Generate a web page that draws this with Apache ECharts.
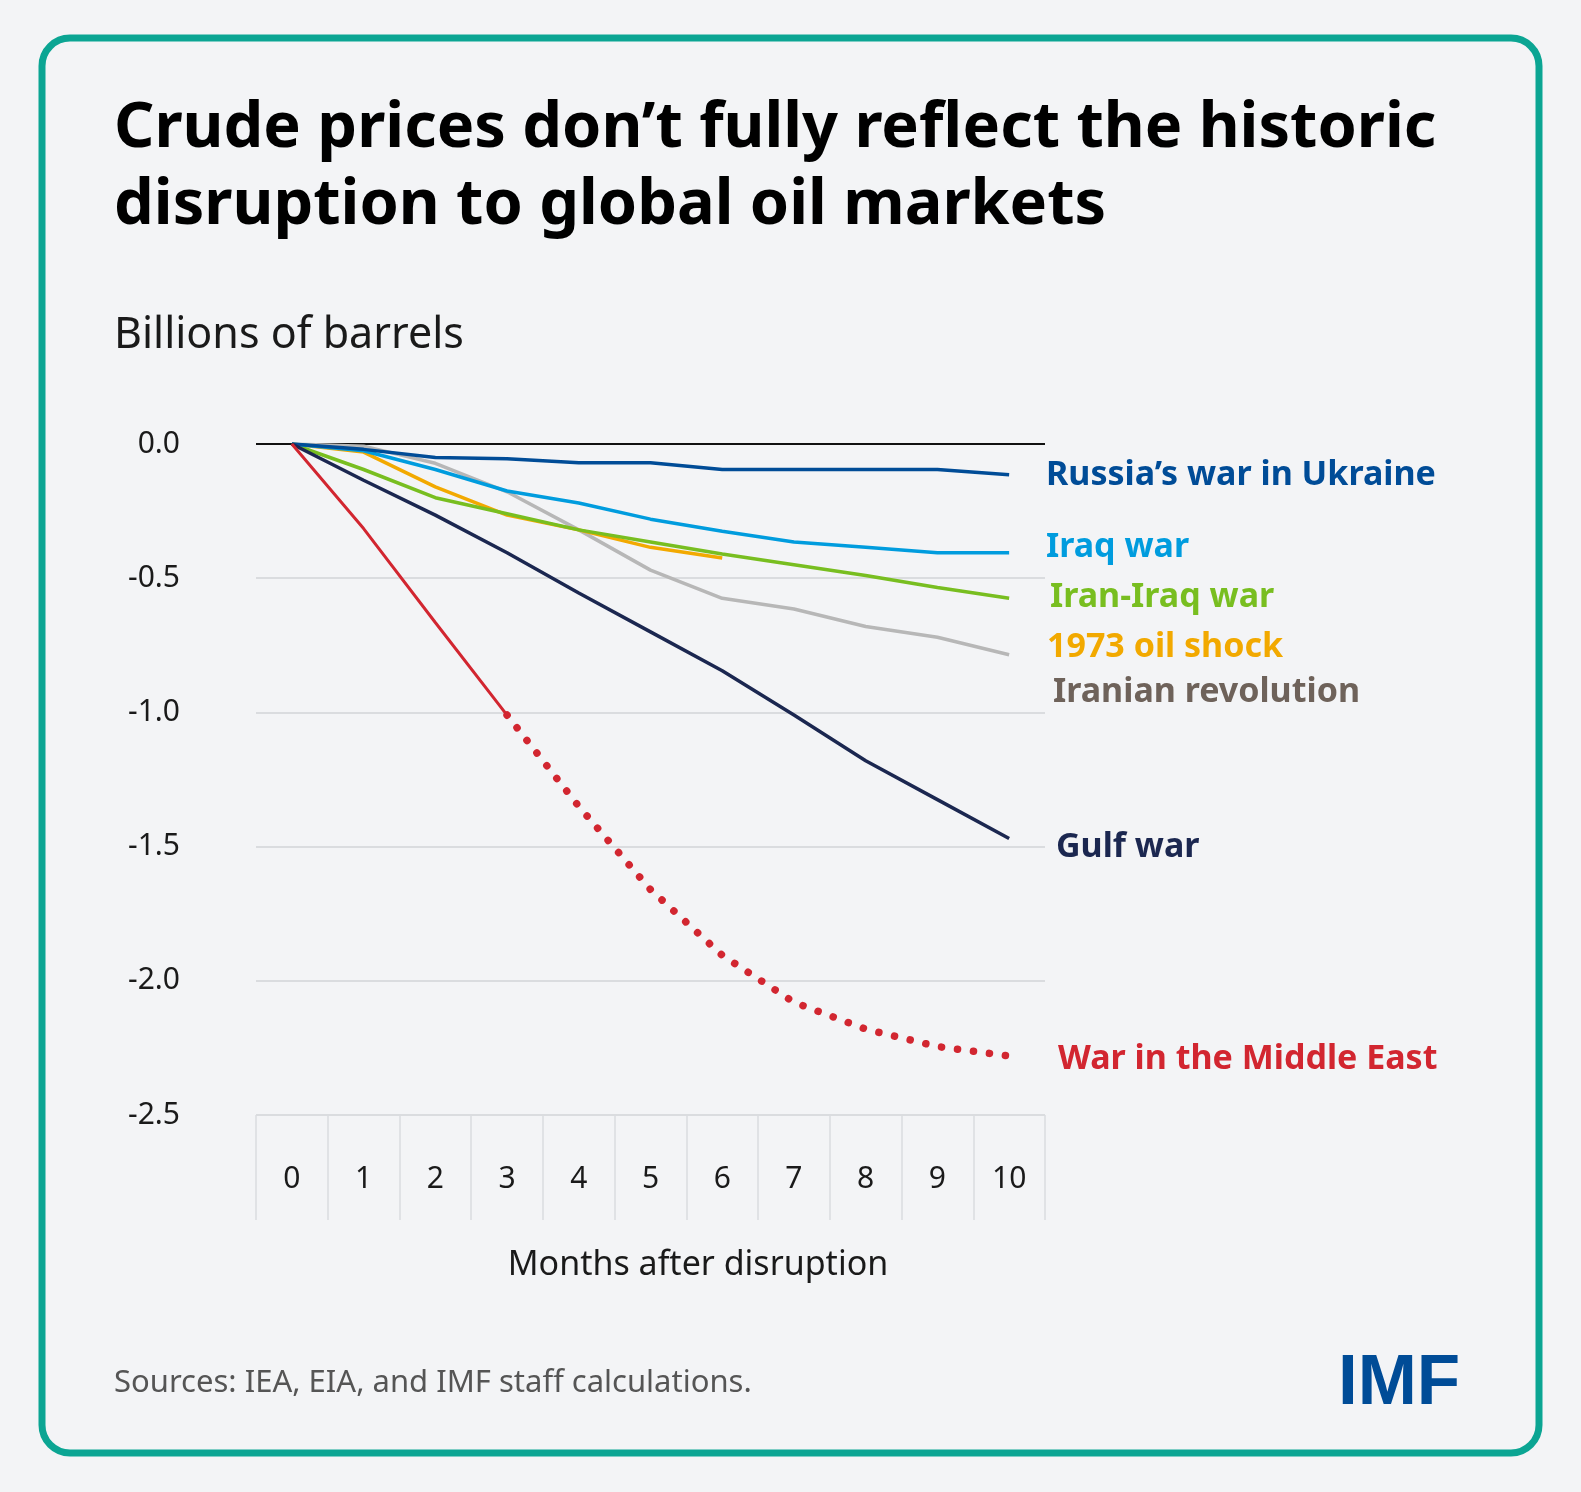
<!DOCTYPE html>
<html>
<head>
<meta charset="utf-8">
<script src="https://cdn.jsdelivr.net/npm/echarts@6/dist/echarts.min.js"></script>
<style>
html,body{margin:0;padding:0;background:#F3F4F6;}
#chart{width:1581px;height:1492px;}
</style>
</head>
<body>
<div id="chart"></div>
<script>
// months after disruption
var months = ['0','1','2','3','4','5','6','7','8','9','10'];
// billions of barrels
var russia   = [0, -0.02, -0.05, -0.055, -0.07, -0.07, -0.095, -0.095, -0.095, -0.095, -0.115];
var iraq     = [0, -0.025, -0.095, -0.175, -0.22, -0.28, -0.325, -0.365, -0.385, -0.405, -0.405];
var iranIraq = [0, -0.095, -0.2, -0.26, -0.32, -0.365, -0.41, -0.45, -0.49, -0.535, -0.575];
var oil1973  = [0, -0.03, -0.16, -0.265, -0.32, -0.385, -0.425];
var iranRev  = [0, -0.008, -0.072, -0.178, -0.32, -0.47, -0.575, -0.615, -0.68, -0.72, -0.785];
var gulf     = [0, -0.135, -0.265, -0.405, -0.555, -0.7, -0.845, -1.01, -1.18, -1.325, -1.47];
var midEast  = [0, -0.315, -0.665, -1.01];
var midEastProj = [null, null, null, -1.01, -1.35, -1.66, -1.905, -2.08, -2.18, -2.245, -2.28];

var FONT = '"Noto Sans", Lato, sans-serif';

var myChart = echarts.init(document.getElementById('chart'));

function line(name, data, color, width){
	return {
		name: name,
		type: 'line',
		data: data,
		symbol: 'none',
		smooth: false,
		lineStyle: {color: color, width: width},
		z: 3
	};
}

function label(text, x, y, color){
	return {
		type: 'text',
		x: x, y: y,
		style: {
			text: text,
			font: 'bold 34px ' + FONT,
			fill: color,
			textVerticalAlign: 'middle'
		}
	};
}

var option = {
	backgroundColor: '#F3F4F6',
	animation: false,
	grid: {left: 256, right: 536, top: 444, bottom: 377},
	xAxis: {
		type: 'category',
		data: months,
		boundaryGap: true,
		axisLine: {show: false, onZero: false},
		axisTick: {show: true, interval: 0, length: 105, lineStyle: {color: '#DADCDF', width: 1.5}},
		axisLabel: {interval: 0, margin: 49, fontSize: 30, color: '#1a1a1a', fontFamily: FONT}
	},
	yAxis: {
		type: 'value',
		min: -2.5,
		max: 0,
		interval: 0.5,
		axisLine: {show: false},
		axisTick: {show: false},
		axisLabel: {
			margin: 76, fontSize: 30, color: '#1a1a1a', fontFamily: FONT,
			formatter: function(v){ return v.toFixed(1); }
		},
		splitLine: {lineStyle: {color: ['#DADCDF','#DADCDF','#DADCDF','#DADCDF','#DADCDF','#111111'], width: 2}}
	},
	series: [
		line('Iranian revolution', iranRev, '#B7B7B7', 3.5),
		line('1973 oil shock', oil1973, '#F2A900', 3.5),
		line('Iran-Iraq war', iranIraq, '#78BE20', 3.5),
		line('Iraq war', iraq, '#009CDE', 3.5),
		line('Russia’s war in Ukraine', russia, '#004C97', 3.5),
		line('Gulf war', gulf, '#1B2750', 3.5),
		line('War in the Middle East', midEast, '#D22630', 3),
		{
			name: 'War in the Middle East (projected)',
			type: 'line',
			data: midEastProj,
			symbol: 'none',
			lineStyle: {color: '#D22630', width: 7.5, type: [0.1, 16], cap: 'round'},
			z: 4
		}
	],
	graphic: [
		{type: 'rect', shape: {x: 42, y: 38, width: 1497, height: 1415, r: 28},
			style: {fill: 'none', stroke: '#0BA593', lineWidth: 7}},
		{type: 'text', x: 114, y: 129, style: {text: 'Crude prices don’t fully reflect the historic', font: 'bold 63px ' + FONT, fill: '#000', textVerticalAlign: 'middle'}},
		{type: 'text', x: 114, y: 206, style: {text: 'disruption to global oil markets', font: 'bold 63px ' + FONT, fill: '#000', textVerticalAlign: 'middle'}},
		{type: 'text', x: 114, y: 336, style: {text: 'Billions of barrels', font: '43px ' + FONT, fill: '#1a1a1a', textVerticalAlign: 'middle'}},
		label('Russia’s war in Ukraine', 1046, 475, '#004C97'),
		label('Iraq war', 1046, 547, '#009CDE'),
		label('Iran-Iraq war', 1050, 597, '#78BE20'),
		label('1973 oil shock', 1047, 647, '#F2A900'),
		label('Iranian revolution', 1053, 692, '#6E625A'),
		label('Gulf war', 1056, 847, '#1B2750'),
		label('War in the Middle East', 1058, 1059, '#D22630'),
		{type: 'text', x: 698, y: 1265, style: {text: 'Months after disruption', font: '34px ' + FONT, fill: '#1a1a1a', textAlign: 'center', textVerticalAlign: 'middle'}},
		{type: 'text', x: 114, y: 1383, style: {text: 'Sources: IEA, EIA, and IMF staff calculations.', font: '31px ' + FONT, fill: '#555555', textVerticalAlign: 'middle'}},
		{type: 'text', x: 1338, y: 1384, style: {text: 'IMF', font: 'bold 71px "Liberation Sans", Arial, sans-serif', fill: '#004C97', textVerticalAlign: 'middle'}}
	]
};
myChart.setOption(option);
</script>
</body>
</html>
